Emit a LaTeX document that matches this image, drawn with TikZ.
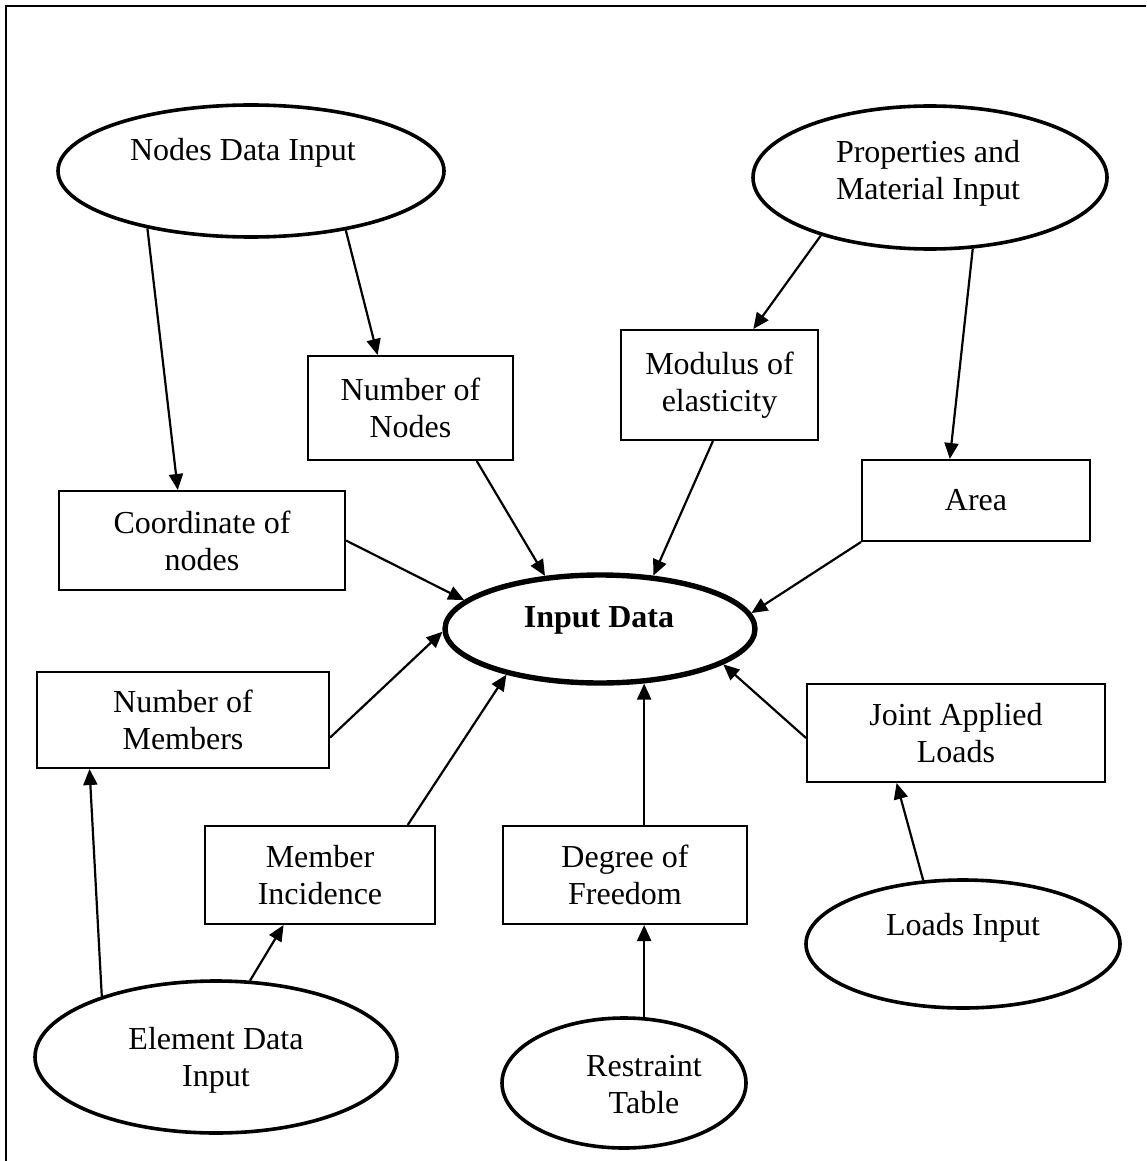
\documentclass[tikz,border=0pt]{standalone}
\usepackage{fontspec}
\setmainfont{Liberation Serif}
\usetikzlibrary{arrows.meta,shapes.geometric,calc}

\begin{document}
\begin{tikzpicture}[x=1pt,y=-1pt,
  every node/.style={font=\fontsize{32}{37}\selectfont, align=center, inner sep=0pt},
  ebox/.style={draw, rectangle, line width=2pt},
  src/.style={draw, ellipse, line width=3.6pt},
  hub/.style={draw, ellipse, line width=5.4pt},
  arr/.style={line width=2.2pt, -{Triangle[length=16pt,width=14pt]}},
  frame/.style={line width=2.2pt}]

\useasboundingbox (0,0) rectangle (1146,1161);

% page frame (left and top edges)
\draw[frame] (6,1161) |- (1146,6);

% central hub
\node[hub, minimum width=310pt, minimum height=108pt] (inp) at (600,629) {};
\node (inp-t) at (599,620) {\bfseries Input Data};

% input sources
\node[src, minimum width=386pt, minimum height=132pt] (ndi) at (251,171) {};
\node (ndi-t) at (243,153) {Nodes Data Input};
\node[src, minimum width=354pt, minimum height=143pt] (pmi) at (930,177.5) {};
\node (pmi-t) at (928,173.5) {Properties and\\Material Input};
\node[src, minimum width=362pt, minimum height=152pt] (edi) at (216,1057) {};
\node (edi-t) at (216,1060) {Element Data\\Input};
\node[src, minimum width=244pt, minimum height=130pt] (rt) at (624,1083) {};
\node (rt-t) at (644,1085) {Restraint\\Table};
\node[src, minimum width=314pt, minimum height=128pt] (li) at (963,944) {};
\node (li-t) at (963,928) {Loads Input};

% data boxes
\node[ebox, minimum width=205pt, minimum height=104pt] (nn) at (410.5,408) {Number of\\Nodes};
\node[ebox, minimum width=197pt, minimum height=110pt] (mod) at (719.5,385) {Modulus of\\elasticity};
\node[ebox, minimum width=286pt, minimum height=99pt] (coord) at (202,540.5) {Coordinate of\\nodes};
\node[ebox, minimum width=228pt, minimum height=81pt] (area) at (976,500.5) {Area};
\node[ebox, minimum width=292pt, minimum height=96pt] (nm) at (183,720) {Number of\\Members};
\node[ebox, minimum width=230pt, minimum height=98pt] (mi) at (320,875) {Member\\Incidence};
\node[ebox, minimum width=244pt, minimum height=98pt] (deg) at (625,875) {Degree of\\Freedom};
\node[ebox, minimum width=298pt, minimum height=98pt] (jal) at (956,733) {Joint Applied\\Loads};

% sources to boxes
\draw[arr] (ndi.209) -- ($(coord.north west)!0.416!(coord.north east)$);
\draw[arr] (ndi.328.8) -- ($(nn.north west)!0.341!(nn.north east)$);
\draw[arr] (pmi.208.4) -- ($(mod.north west)!0.67!(mod.north east)$);
\draw[arr] (pmi.301.8) -- ($(area.north west)!0.386!(area.north east)$);
\draw[arr] (edi.152.4) -- ($(nm.south west)!0.182!(nm.south east)$);
\draw[arr] (edi.66.3) -- ($(mi.south west)!0.343!(mi.south east)$);
\draw[arr] (rt.73.6) -- (rt.73.6 |- deg.south);
\draw[arr] (li.122) -- ($(jal.south west)!0.302!(jal.south east)$);

% boxes to hub
\draw[arr] ($(nn.south west)!0.82!(nn.south east)$) -- (inp.136.5);
\draw[arr] ($(mod.south west)!0.467!(mod.south east)$) -- (inp.45.5);
\draw[arr] (area.south west) -- (inp.6.3);
\draw[arr] (coord.east) -- (inp.168.2);
\draw[arr] ($(nm.north east)!0.68!(nm.south east)$) -- (inp.181);
\draw[arr] ($(mi.north west)!0.878!(mi.north east)$) -- (inp.206);
\draw[arr] (rt.73.6 |- deg.north) -- (rt.73.6 |- inp.308.5);
\draw[arr] ($(jal.north west)!0.55!(jal.south west)$) -- (inp.344.8);

\end{tikzpicture}
\end{document}
